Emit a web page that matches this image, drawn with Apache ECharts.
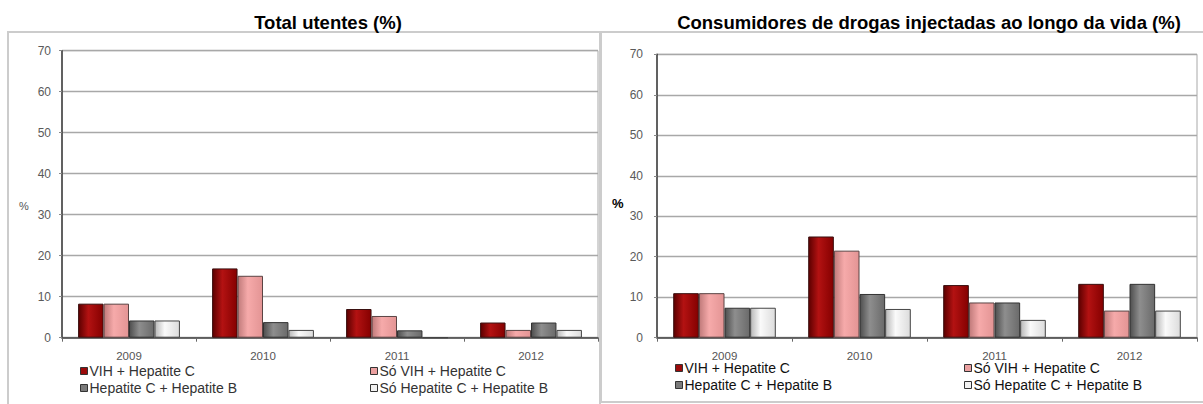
<!DOCTYPE html>
<html>
<head>
<meta charset="utf-8">
<script src="https://cdn.jsdelivr.net/npm/echarts@6/dist/echarts.min.js"></script>
<style>
html,body{margin:0;padding:0;background:#fff;}
#chart{width:1203px;height:404px;}
</style>
</head>
<body>
<div id="chart"></div>
<script>
// ---- data ----
const categories = ['2009', '2010', '2011', '2012'];
const seriesNames = ['VIH + Hepatite C', 'Só VIH + Hepatite C', 'Hepatite C + Hepatite B', 'Só Hepatite C + Hepatite B'];
const leftTitle = 'Total utentes (%)';
const rightTitle = 'Consumidores de drogas injectadas ao longo da vida (%)';
// Total utentes
const totalVihHepC = [8.3, 16.9, 7.0, 3.7];
const totalSoVihHepC = [8.3, 15.1, 5.3, 1.9];
const totalHepCHepB = [4.2, 3.8, 1.8, 3.7];
const totalSoHepCHepB = [4.2, 1.9, 0, 1.9];
// Consumidores de drogas injectadas ao longo da vida
const cdiVihHepC = [11.0, 25.0, 13.0, 13.3];
const cdiSoVihHepC = [11.0, 21.5, 8.7, 6.7];
const cdiHepCHepB = [7.4, 10.8, 8.7, 13.3];
const cdiSoHepCHepB = [7.4, 7.1, 4.4, 6.7];
const yMin = 0, yMax = 70, yStep = 10;

// ---- styles ----
const FONT = '"Liberation Sans", Arial, sans-serif';
function grad(c0, c1, c2) {
  return { type: 'linear', x: 0, y: 0, x2: 1, y2: 0,
    colorStops: [{ offset: 0, color: c0 }, { offset: 0.4, color: c1 }, { offset: 1, color: c2 }] };
}
const barStyles = [
  { color: grad('#5c0000', '#b31212', '#850000'), borderColor: '#3a1010', flat: '#9b0a0a' },
  { color: grad('#c07a7a', '#f6aaaa', '#e39494'), borderColor: '#5a4444', flat: '#eba0a0' },
  { color: grad('#4e4e4e', '#8e8e8e', '#6a6a6a'), borderColor: '#333333', flat: '#7a7a7a' },
  { color: grad('#b8b8b8', '#fafafa', '#dcdcdc'), borderColor: '#444444', flat: '#f2f2f2' }
];

const leftData = [totalVihHepC, totalSoVihHepC, totalHepCHepB, totalSoHepCHepB];
const rightData = [cdiVihHepC, cdiSoVihHepC, cdiHepCHepB, cdiSoHepCHepB];

function makeSeries(dataSets, idx) {
  return dataSets.map((d, i) => ({
    name: seriesNames[i],
    type: 'bar',
    xAxisIndex: idx, yAxisIndex: idx,
    data: d,
    barGap: '0%',
    barCategoryGap: '24%',
    itemStyle: { color: barStyles[i].color, borderColor: barStyles[i].borderColor, borderWidth: 1 },
    emphasis: { disabled: true },
    animation: false
  }));
}

function xAxis(idx) {
  return {
    type: 'category', gridIndex: idx, data: categories,
    axisLine: { lineStyle: { color: '#444', width: 1.5 } },
    axisTick: { show: true, length: 4, lineStyle: { color: '#666' } },
    axisLabel: { color: '#555', fontSize: 11.5, fontFamily: FONT, margin: 12 }
  };
}
function yAxis(idx, margin) {
  return {
    type: 'value', gridIndex: idx, min: yMin, max: yMax, interval: yStep,
    axisLine: { show: true, lineStyle: { color: '#444', width: 1.6 } },
    axisTick: { show: true, length: 3, lineStyle: { color: '#888' } },
    axisLabel: { color: '#5a5a5a', fontSize: 12, fontFamily: FONT, margin: margin },
    splitLine: { show: true, lineStyle: { color: '#a8a8a8', width: 1.3 } }
  };
}
function legend(items, left, top, color) {
  return {
    orient: 'vertical', left: left, top: top, padding: 0,
    itemGap: 3, itemWidth: 7, itemHeight: 7, icon: 'rect',
    selectedMode: false,
    textStyle: { color: color, fontSize: 14, fontFamily: FONT, padding: [0, 0, 0, -3] },
    data: items.map(i => ({ name: seriesNames[i],
      itemStyle: { color: barStyles[i].flat, borderColor: '#333', borderWidth: 1 } }))
  };
}

const chart = echarts.init(document.getElementById('chart'), null, { renderer: 'svg' });
chart.setOption({
  backgroundColor: '#fff',
  animation: false,
  title: [
    { text: leftTitle, left: 328, top: 13, textAlign: 'center', padding: 0,
      textStyle: { fontSize: 18.5, fontWeight: 'bold', color: '#000', fontFamily: FONT } },
    { text: rightTitle, left: 929, top: 13, textAlign: 'center', padding: 0,
      textStyle: { fontSize: 18.5, fontWeight: 'bold', color: '#000', fontFamily: FONT } }
  ],
  grid: [
    { left: 62, right: 605, top: 50.7, bottom: 66.3, show: true, borderColor: '#a8a8a8', borderWidth: 1, backgroundColor: 'transparent' },
    { left: 657, right: 6, top: 54.3, bottom: 66.3, show: true, borderColor: '#a8a8a8', borderWidth: 1, backgroundColor: 'transparent' }
  ],
  xAxis: [xAxis(0), xAxis(1)],
  yAxis: [yAxis(0, 11), yAxis(1, 14)],
  legend: [
    legend([0, 2], 80, 364, '#333'),
    legend([1, 3], 370, 364, '#333'),
    legend([0, 2], 675, 361, '#111'),
    legend([1, 3], 964, 361, '#111')
  ],
  graphic: [
    { type: 'rect', silent: true, z: -10, shape: { x: 8, y: 32, width: 592, height: 390 },
      style: { fill: 'none', stroke: '#cccccc', lineWidth: 2 } },
    { type: 'rect', silent: true, z: -10, shape: { x: 601, y: 32, width: 610, height: 370 },
      style: { fill: 'none', stroke: '#cccccc', lineWidth: 2 } },
    { type: 'text', silent: true, left: 19, top: 200,
      style: { text: '%', fill: '#555', font: '11px ' + FONT } },
    { type: 'text', silent: true, left: 612, top: 197,
      style: { text: '%', fill: '#000', font: 'bold 13px ' + FONT } }
  ],
  series: makeSeries(leftData, 0).concat(makeSeries(rightData, 1))
});
</script>
</body>
</html>
